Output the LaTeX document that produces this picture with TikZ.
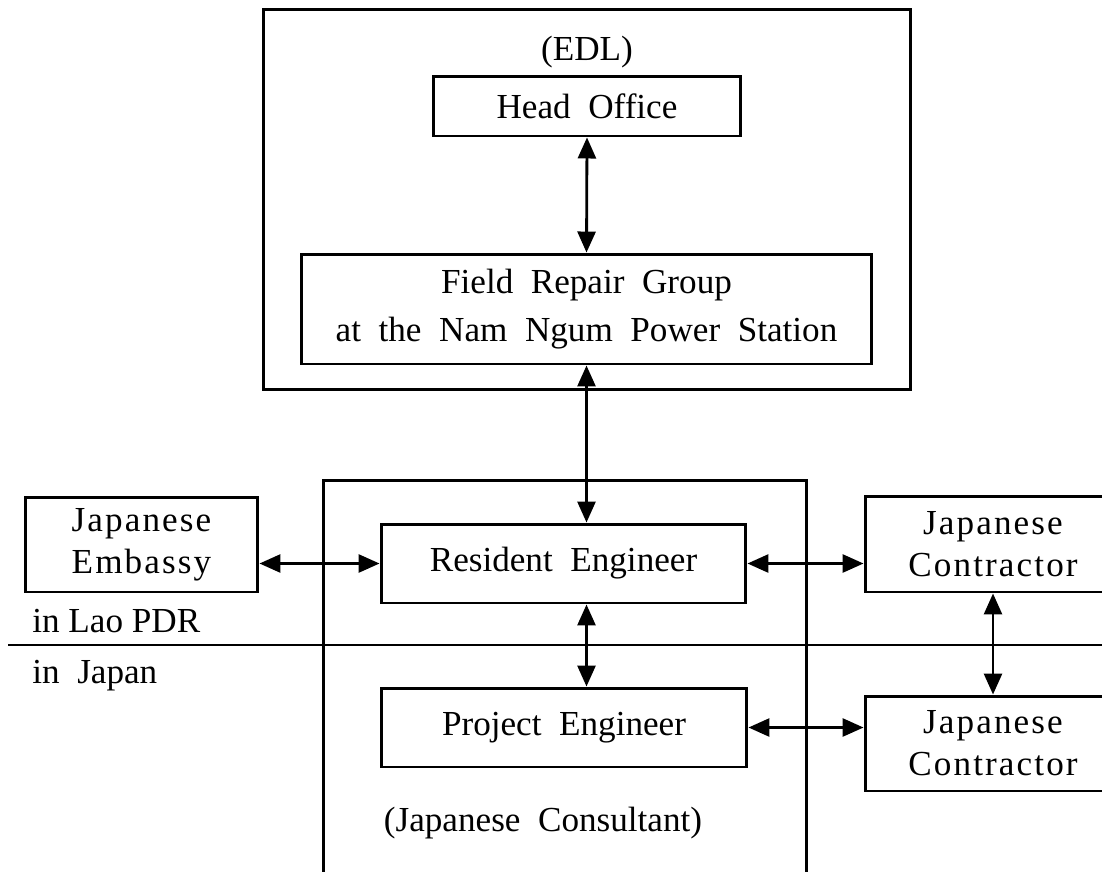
\documentclass[tikz,border=0pt]{standalone}
\usepackage{fontspec}
\setmainfont{Liberation Serif}
\usetikzlibrary{arrows.meta,positioning}

\tikzset{
    orgbox/.style={draw, line width=1.7pt, inner sep=0pt, align=center},
    link/.style={line width=1.6pt, {Triangle[length=0.42cm,width=0.36cm]}-{Triangle[length=0.42cm,width=0.36cm]}},
    spaced/.style={font=\fontsize{20}{24}\selectfont\addfontfeatures{LetterSpace=6}}
}

\begin{document}
\begin{tikzpicture}[x=0.02cm, y=-0.02cm, font=\fontsize{20}{25}\selectfont]
    \useasboundingbox (0,0) rectangle (1102,872);
    \clip (0,0) rectangle (1102,872);

    % EDL side
    \node[orgbox, minimum width=12.96cm, minimum height=7.62cm] (edl) at (587,199.5) {};
    \node (edltxt) at (587,52) {(EDL)};
    \node[orgbox, minimum width=6.16cm, minimum height=1.2cm] (head) at (587,106) {Head\ \ Office};
    \node[orgbox, minimum width=11.42cm, minimum height=2.2cm, font=\fontsize{20}{27}\selectfont] (field) at (586.5,309)
        {Field\ \ Repair\ \ Group\\at\ \ the\ \ Nam\ \ Ngum\ \ Power\ \ Station};

    % consultant side
    \node[orgbox, minimum width=9.68cm, minimum height=8.8cm] (consult) at (565,700) {};
    \node[orgbox, minimum width=7.3cm, minimum height=1.58cm] (res) at (563.5,563.5) {Resident\ \ Engineer};
    \node[orgbox, minimum width=7.32cm, minimum height=1.58cm] (proj) at (564,727.5) {Project\ \ Engineer};
    \node (consulttxt) at (543,823) {(Japanese\ \ Consultant)};

    % others
    \node[orgbox, spaced, minimum width=4.66cm, minimum height=1.9cm] (emb) at (141.5,544.5) {Japanese\\Embassy};
    \node[orgbox, spaced, minimum width=5.12cm, minimum height=1.92cm] (con1) at (993,544) {Japanese\\Contractor};
    \node[orgbox, spaced, minimum width=5.12cm, minimum height=1.9cm] (con2) at (993,743.5) {Japanese\\Contractor};

    % country border
    \coordinate (bl) at (8,645);
    \coordinate (br) at (1110,645);
    \draw[line width=1.6pt] (bl) -- (br);
    \node[anchor=base west, inner sep=0pt] (lao) at (32,632) {in Lao PDR};
    \node[anchor=base west, inner sep=0pt] (jpn) at (32,683) {in\ \ Japan};

    % links
    \draw[link] (head.south) -- (field.north);
    \draw[link] (field.south) -- (field.south |- res.north);
    \draw[link] (res.south -| field.south) -- (proj.north -| field.south);
    \draw[link] (emb.east |- res.west) -- (res.west);
    \draw[link] (res.east) -- (res.east -| con1.west);
    \draw[link] (con1.south) -- (con2.north);
    \draw[link] (proj.east) -- (proj.east -| con2.west);
\end{tikzpicture}
\end{document}
